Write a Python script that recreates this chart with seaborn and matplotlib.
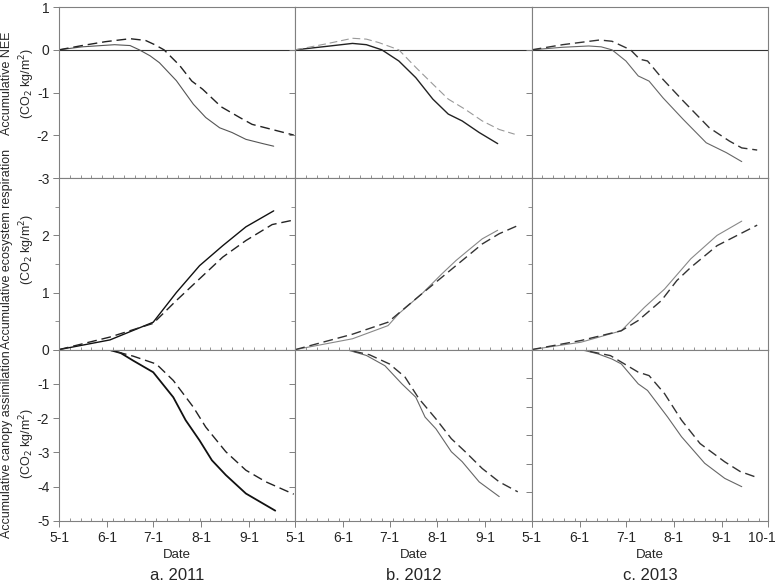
import numpy as np
import pandas as pd
import matplotlib
matplotlib.use("Agg")
import matplotlib.pyplot as plt
from matplotlib.ticker import MultipleLocator, FixedLocator
from matplotlib.transforms import ScaledTranslation
import seaborn as sns

# days counted from May 1
month_ticks = [0, 31, 61, 92, 123, 153]
tick_labels = ["5-1", "6-1", "7-1", "8-1", "9-1", "10-1"]
years = ["a. 2011", "b. 2012", "c. 2013"]

# Accumulative NEE (solid / dashed)
nee_2011_s_day = [0, 15, 36, 46, 52, 59, 65, 76, 87, 95, 104, 112, 121, 132, 139]
nee_2011_s_val = [0, 0.07, 0.12, 0.1, 0.0, -0.14, -0.3, -0.72, -1.27, -1.58, -1.82, -1.93, -2.09, -2.19, -2.25]
nee_2011_d_day = [0, 15, 30, 46, 56, 62, 68, 78, 86, 93, 105, 117, 125, 138, 152]
nee_2011_d_val = [0, 0.1, 0.19, 0.26, 0.22, 0.12, 0.0, -0.36, -0.73, -0.92, -1.33, -1.58, -1.74, -1.86, -1.99]
nee_2012_s_day = [0, 20, 37, 46, 56, 67, 78, 89, 99, 108, 119, 131]
nee_2012_s_val = [0, 0.08, 0.15, 0.12, 0.0, -0.26, -0.65, -1.15, -1.5, -1.66, -1.93, -2.19]
nee_2012_d_day = [0, 20, 37, 46, 54, 67, 78, 89, 99, 110, 121, 132, 142]
nee_2012_d_val = [0, 0.14, 0.27, 0.25, 0.17, 0.0, -0.41, -0.8, -1.15, -1.39, -1.66, -1.86, -1.97]
nee_2013_s_day = [0, 20, 37, 45, 52, 61, 69, 76, 85, 98, 113, 126, 136]
nee_2013_s_val = [0, 0.06, 0.09, 0.07, 0.0, -0.26, -0.61, -0.73, -1.12, -1.62, -2.17, -2.4, -2.61]
nee_2013_d_day = [0, 20, 44, 52, 58, 64, 70, 75, 85, 98, 115, 128, 136, 146]
nee_2013_d_val = [0, 0.12, 0.23, 0.2, 0.1, 0.0, -0.22, -0.26, -0.69, -1.19, -1.82, -2.13, -2.29, -2.34]

# Accumulative ecosystem respiration
re_2011_s_day = [0, 33, 61, 76, 91, 106, 121, 130, 139]
re_2011_s_val = [0, 0.17, 0.48, 1.0, 1.47, 1.82, 2.15, 2.29, 2.43]
re_2011_d_day = [0, 33, 61, 76, 91, 106, 121, 138, 152]
re_2011_d_val = [0, 0.22, 0.46, 0.86, 1.24, 1.62, 1.91, 2.19, 2.27]
re_2012_s_day = [0, 37, 60, 67, 82, 95, 104, 112, 121, 131]
re_2012_s_val = [0, 0.19, 0.42, 0.63, 0.98, 1.33, 1.56, 1.74, 1.94, 2.09]
re_2012_d_day = [0, 37, 60, 82, 95, 108, 121, 132, 143]
re_2012_d_val = [0, 0.27, 0.48, 0.98, 1.27, 1.56, 1.85, 2.03, 2.16]
re_2013_s_day = [0, 32, 58, 73, 86, 103, 120, 136]
re_2013_s_val = [0, 0.13, 0.33, 0.74, 1.06, 1.59, 2.0, 2.25]
re_2013_d_day = [0, 32, 58, 69, 84, 94, 103, 120, 133, 146]
re_2013_d_val = [0, 0.16, 0.33, 0.51, 0.86, 1.21, 1.44, 1.82, 2.0, 2.18]

# Accumulative canopy assimilation
gpp_2011_s_day = [0, 32, 40, 48, 61, 74, 82, 91, 99, 108, 121, 132, 140]
gpp_2011_s_val = [0, 0, -0.1, -0.32, -0.66, -1.39, -2.06, -2.65, -3.23, -3.66, -4.2, -4.49, -4.7]
gpp_2011_d_day = [0, 32, 48, 63, 74, 87, 95, 108, 121, 134, 152]
gpp_2011_d_val = [0, 0, -0.19, -0.42, -0.9, -1.68, -2.26, -2.98, -3.52, -3.86, -4.22]
gpp_2012_s_day = [0, 33, 46, 58, 69, 78, 84, 91, 101, 108, 119, 132]
gpp_2012_s_val = [0, 0, -0.17, -0.47, -1.0, -1.39, -1.97, -2.31, -2.98, -3.27, -3.86, -4.29]
gpp_2012_d_day = [0, 33, 48, 61, 71, 80, 91, 101, 110, 121, 132, 144]
gpp_2012_d_val = [0, 0, -0.15, -0.42, -0.8, -1.43, -2.02, -2.6, -2.98, -3.47, -3.86, -4.15]
gpp_2013_s_day = [0, 32, 43, 52, 58, 69, 75, 88, 97, 112, 125, 136]
gpp_2013_s_val = [0, 0, -0.15, -0.33, -0.5, -1.2, -1.43, -2.36, -3.05, -3.98, -4.51, -4.8]
gpp_2013_d_day = [0, 32, 51, 60, 69, 76, 86, 97, 109, 125, 135, 146]
gpp_2013_d_val = [0, 0, -0.21, -0.5, -0.79, -0.91, -1.54, -2.47, -3.29, -3.93, -4.27, -4.48]

sns.set_style("ticks")
plt.rcParams["font.family"] = ["Liberation Sans", "DejaVu Sans"]
plt.rcParams["font.size"] = 10
plt.rcParams["axes.unicode_minus"] = False

fig, axes = plt.subplots(3, 3, figsize=(7.76, 5.84), dpi=100,
                         gridspec_kw=dict(hspace=0, wspace=0))
fig.subplots_adjust(left=0.076, right=0.9897, top=0.988, bottom=0.108)

panels = [
    [(nee_2011_s_day, nee_2011_s_val, nee_2011_d_day, nee_2011_d_val),
     (nee_2012_s_day, nee_2012_s_val, nee_2012_d_day, nee_2012_d_val),
     (nee_2013_s_day, nee_2013_s_val, nee_2013_d_day, nee_2013_d_val)],
    [(re_2011_s_day, re_2011_s_val, re_2011_d_day, re_2011_d_val),
     (re_2012_s_day, re_2012_s_val, re_2012_d_day, re_2012_d_val),
     (re_2013_s_day, re_2013_s_val, re_2013_d_day, re_2013_d_val)],
    [(gpp_2011_s_day, gpp_2011_s_val, gpp_2011_d_day, gpp_2011_d_val),
     (gpp_2012_s_day, gpp_2012_s_val, gpp_2012_d_day, gpp_2012_d_val),
     (gpp_2013_s_day, gpp_2013_s_val, gpp_2013_d_day, gpp_2013_d_val)],
]

# (solid colour, solid width, dashed colour, dashed width)
styles = [
    [("#555555", 0.8, "#222222", 1.0), ("#222222", 1.0, "#999999", 0.8), ("#666666", 0.8, "#333333", 1.0)],
    [("#111111", 1.0, "#222222", 1.0), ("#888888", 0.8, "#333333", 1.0), ("#888888", 0.8, "#333333", 1.0)],
    [("#111111", 1.3, "#222222", 1.0), ("#666666", 0.8, "#333333", 1.0), ("#666666", 0.8, "#333333", 1.0)],
]

ylabels = ["Accumulative NEE\n(CO$_2$ kg/m$^2$)",
           "Accumulative ecosystem respiration\n(CO$_2$ kg/m$^2$)",
           "Accumulative canopy assimilation\n(CO$_2$ kg/m$^2$)"]
ylims = [(-3, 1), (0, 3), (-5, 0)]
ylabel_y = [0.555, 0.585, 0.45]

for r in range(3):
    for c in range(3):
        ax = axes[r, c]
        sd, sv, dd, dv = panels[r][c]
        sc, sw, dc, dw = styles[r][c]
        if r == 0:
            ax.axhline(0, color="#333333", lw=0.8, zorder=1)
        sns.lineplot(x=sd, y=sv, ax=ax, color=sc, lw=sw, estimator=None, sort=False)
        sns.lineplot(x=dd, y=dv, ax=ax, color=dc, lw=dw, estimator=None, sort=False,
                     dashes=False, linestyle=(0, (7, 3.5)))
        ax.set_xlim(0, 153)
        ylo, yhi = ylims[r]
        if r == 2 and c == 2:
            ylo = -6
        ax.set_ylim(ylo, yhi)
        yt = np.arange(ylo, yhi + 0.5, 1)
        ax.set_yticks(yt)
        if c == 0:
            ylab = ["%d" % v for v in yt]
            if r >= 1:
                ylab[-1] = ""
            ax.set_yticklabels(ylab)
        else:
            ax.set_yticklabels([])
        if r == 1:
            ax.yaxis.set_minor_locator(MultipleLocator(0.5))
        ax.xaxis.set_major_locator(FixedLocator(month_ticks))
        ax.xaxis.set_minor_locator(MultipleLocator(7))
        labs = list(tick_labels)
        labs[-1] = "10-1" if c == 2 else ""
        ax.set_xticklabels(labs if r == 2 else [""] * 6)
        ax.tick_params(axis="both", which="major", direction="out", length=4, width=0.7,
                       color="#808080", pad=3, labelsize=10)
        ax.tick_params(axis="x", which="minor", direction="in", length=2, width=0.6, color="#808080")
        ax.tick_params(axis="y", which="minor", direction="out", length=3, width=0.6, color="#808080")
        for sp in ax.spines.values():
            sp.set_visible(True)
            sp.set_color("#808080")
            sp.set_linewidth(0.8)
        if c == 0:
            ax.set_ylabel(ylabels[r], fontsize=9, linespacing=1.3)
            ax.yaxis.set_label_coords(-0.095, ylabel_y[r])
        else:
            ax.set_ylabel("")
        ax.set_xlabel("Date" if r == 2 else "", fontsize=9.5, labelpad=3)

# keep the last "10-1" label inside the figure
last = axes[2, 2].get_xticklabels()[-1]
last.set_transform(last.get_transform() + ScaledTranslation(-6 / 100, 0, fig.dpi_scale_trans))

for c in range(3):
    pos = axes[2, c].get_position()
    fig.text((pos.x0 + pos.x1) / 2, 0.014, years[c], ha="center", va="center", fontsize=12)

fig.savefig("out.png", dpi=100)
